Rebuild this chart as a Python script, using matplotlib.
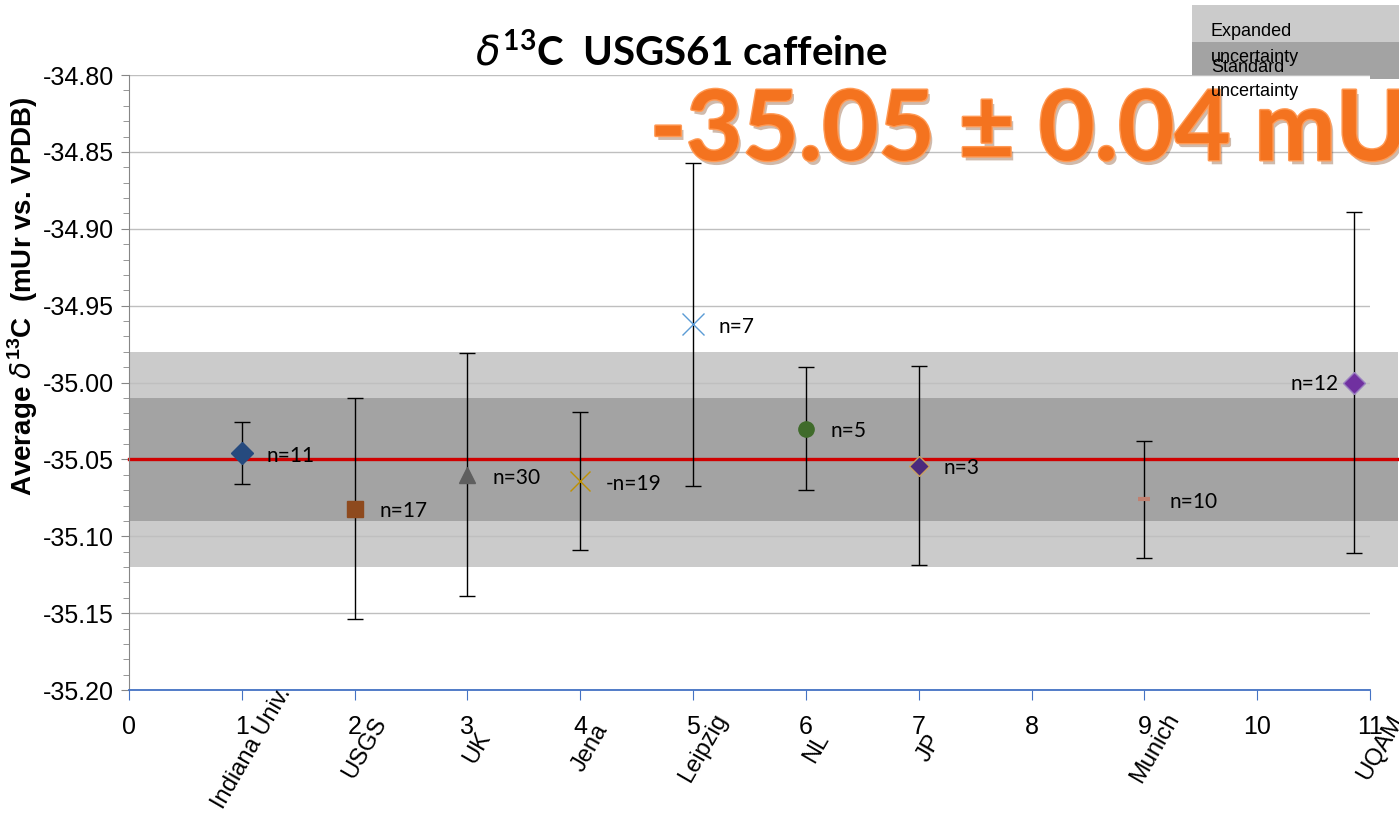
import matplotlib.pyplot as plt
import matplotlib.patheffects as pe
from matplotlib.patches import Rectangle
from matplotlib.ticker import MultipleLocator, FormatStrFormatter
import matplotlib.transforms as mtrans

# lab results, delta13C of USGS61 caffeine
x_pos = [1, 2, 3, 4, 5, 6, 7, 9, 10.86]
lab_names = ["Indiana Univ.", "USGS", "UK", "Jena", "Leipzig", "NL", "JP", "Munich", "UQAM"]
lab_tick = [1, 2, 3, 4, 5, 6, 7, 9, 11]
means = [-35.046, -35.082, -35.060, -35.064, -34.962, -35.030, -35.054, -35.076, -35.000]
errs = [0.020, 0.072, 0.079, 0.045, 0.105, 0.040, 0.065, 0.038, 0.111]
n_lbl = ["n=11", "n=17", "n=30", "-n=19", "n=7", "n=5", "n=3", "n=10", "n=12"]

consensus = -35.05
u_std = 0.04
u_exp = 0.07

markers = ['D', 's', '^', 'x', 'x', 'o', 'D', '_', 'D']
colors = ['#264A7E', '#8E4A1E', '#5F5F5F', '#BF9000', '#5B9BD5', '#3F6B2A', '#4B2A7C', '#C08070', '#7030A0']
edges = ['#264A7E', '#8E4A1E', '#5F5F5F', '#BF9000', '#5B9BD5', '#3F6B2A', '#C8A060', '#C08070', '#9A80C0']
msize = [11, 12, 12, 15, 16, 11, 10, 8, 11]

arial = ['Liberation Sans', 'DejaVu Sans']

fig = plt.figure(figsize=(13.99, 8.17), dpi=100)
ax = fig.add_axes([0.0922, 0.1554, 0.8871, 0.7528])

ax.set_xlim(0, 11)
ax.set_ylim(-35.20, -34.80)

# uncertainty bands run past the plot area to the right edge
ax.axhspan(consensus - u_exp, consensus + u_exp, xmin=0, xmax=1.0226, color='#CBCBCB', lw=0, zorder=0, clip_on=False)
ax.axhspan(consensus - u_std, consensus + u_std, xmin=0, xmax=1.0226, color='#A3A3A3', lw=0, zorder=0.5, clip_on=False)
ax.axhline(consensus, xmin=0, xmax=1.0226, color='#D00000', lw=2.4, zorder=2, clip_on=False)

ax.set_axisbelow('line')
ax.yaxis.grid(True, color='#BFBFBF', lw=1)

ax.errorbar(x_pos, means, yerr=errs, fmt='none', ecolor='black', elinewidth=1, capsize=6, capthick=1, zorder=3)
for i in range(len(x_pos)):
    ax.plot(x_pos[i], means[i], marker=markers[i], color=colors[i], mec=edges[i],
            ms=msize[i], mew=1 if markers[i] != '_' else 3, ls='none', zorder=4)
    if i == len(x_pos) - 1:
        ax.annotate(n_lbl[i], (x_pos[i], means[i]), xytext=(-11, -1), textcoords='offset points',
                    ha='right', va='center', fontsize=15, family='Lato')
    else:
        ax.annotate(n_lbl[i], (x_pos[i], means[i]), xytext=(18, -2), textcoords='offset points',
                    ha='left', va='center', fontsize=15, family='Lato')

# axes styling
for s in ['top', 'right']:
    ax.spines[s].set_visible(False)
ax.spines['left'].set_color('#868686')
ax.spines['bottom'].set_color('#4472C4')
ax.spines['bottom'].set_linewidth(1.3)
ax.yaxis.set_major_locator(MultipleLocator(0.05))
ax.yaxis.set_minor_locator(MultipleLocator(0.01))
ax.yaxis.set_major_formatter(FormatStrFormatter('%.2f'))
ax.xaxis.set_major_locator(MultipleLocator(1))
ax.tick_params(axis='y', which='major', length=6, color='#868686', labelsize=18, pad=5)
ax.tick_params(axis='y', which='minor', length=4, color='#868686')
ax.tick_params(axis='x', length=7, color='#4472C4', labelsize=18, pad=11)
for t in ax.get_xticklabels() + ax.get_yticklabels():
    t.set_family(arial)

# lab names under the axis
trans = mtrans.blended_transform_factory(ax.transData, ax.transAxes)
for xp, nm in zip(lab_tick, lab_names):
    ax.text(xp + 0.09, -0.094, nm, transform=trans, rotation=60, rotation_mode='anchor',
            ha='center', va='center', fontsize=17, family=arial, clip_on=False)

ax.set_ylabel(r"Average $\delta^{\mathregular{13}}$C  (mUr vs. VPDB)", fontsize=20,
              fontweight='bold', family='Liberation Sans')
ax.yaxis.set_label_coords(-0.072, 0.64)

fig.text(0.487, 0.936, r"$\delta^{\mathregular{13}}$C  USGS61 caffeine", ha='center', va='center',
         fontsize=29, fontweight='bold', family='Lato')

# consensus value banner
big = fig.text(0.4646, 0.804, u"-35.05 \u00b1 0.04 mU", ha='left', va='baseline', fontsize=70,
               fontweight='bold', family='Lato', color='#F4731F')
big.set_path_effects([pe.SimplePatchShadow(offset=(2, -3), shadow_rgbFace='#7A3A10', alpha=0.35),
                      pe.withStroke(linewidth=2, foreground='#FF9A55')])

# band legend, top right
fig.add_artist(Rectangle((1192 / 1399, 1 - 79 / 817), 207 / 1399, 74 / 817, transform=fig.transFigure,
                         color='#CBCBCB', lw=0, zorder=0))
fig.add_artist(Rectangle((1192 / 1399, 1 - 79 / 817), 207 / 1399, 37 / 817, transform=fig.transFigure,
                         color='#A3A3A3', lw=0, zorder=0))
fig.text(1211 / 1399, 1 - 32 / 817, "Expanded", fontsize=13, family=arial, va='center')
fig.text(1211 / 1399, 1 - 57 / 817, "uncertainty", fontsize=13, family=arial, va='center')
fig.text(1211 / 1399, 1 - 68 / 817, "Standard", fontsize=13, family=arial, va='center')
fig.text(1211 / 1399, 1 - 92 / 817, "uncertainty", fontsize=13, family=arial, va='center')

fig.savefig("out.png", dpi=100)
